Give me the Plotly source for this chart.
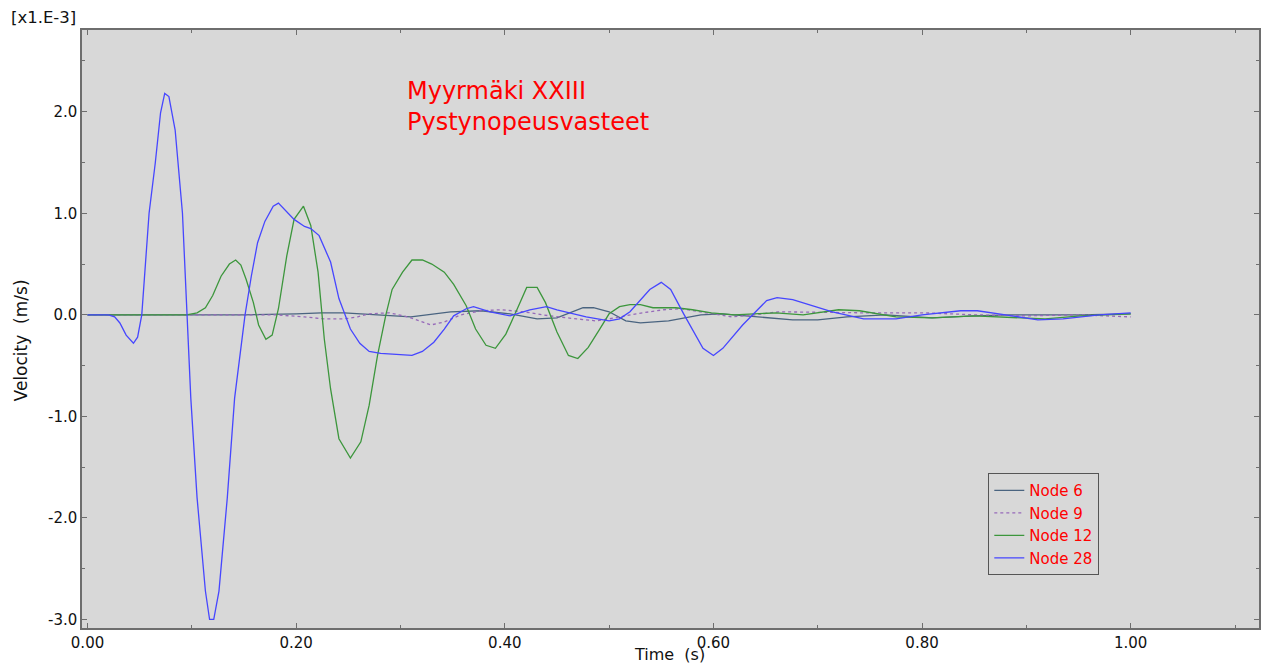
import plotly.graph_objects as go

# ---- data (time in s, velocity in 1e-3 m/s) ----
t_node6 = [0, 0.15, 0.2, 0.224, 0.246, 0.28, 0.31, 0.348, 0.377, 0.405, 0.431, 0.45, 0.475,
           0.485, 0.50, 0.516, 0.53, 0.557, 0.588, 0.608, 0.646, 0.676, 0.70, 0.728, 0.765,
           0.81, 0.85, 0.885, 0.95, 1.0]
v_node6 = [0, 0, 0.01, 0.02, 0.02, 0.0, -0.02, 0.03, 0.04, 0.01, -0.04, -0.03, 0.07,
           0.07, 0.03, -0.06, -0.08, -0.06, 0, 0.01, -0.02, -0.05, -0.05, -0.02, 0,
           -0.03, -0.01, 0, 0, 0.01]

t_node9 = [0, 0.18, 0.208, 0.227, 0.246, 0.259, 0.27, 0.289, 0.307, 0.323, 0.329, 0.342,
           0.358, 0.377, 0.396, 0.418, 0.443, 0.469, 0.488, 0.50, 0.526, 0.552, 0.57, 0.593,
           0.618, 0.64, 0.662, 0.741, 0.802, 0.85, 0.90, 0.95, 1.0]
v_node9 = [0, 0, -0.02, -0.04, -0.04, -0.02, 0.01, 0.02, -0.02, -0.08, -0.10, -0.07,
           0, 0.04, 0.05, 0.03, -0.01, -0.04, -0.06, -0.04, 0.01, 0.05, 0.06, 0.02,
           -0.02, 0, 0.03, 0.02, 0.02, 0, -0.01, 0, -0.02]

t_node12 = [0, 0.095, 0.105, 0.113, 0.120, 0.128, 0.136, 0.142, 0.147, 0.152, 0.159, 0.164,
            0.171, 0.177, 0.183, 0.191, 0.198, 0.207, 0.214, 0.221, 0.227, 0.233, 0.241,
            0.252, 0.262, 0.270, 0.278, 0.286, 0.292, 0.302, 0.311, 0.321, 0.330, 0.342,
            0.351, 0.363, 0.372, 0.382, 0.391, 0.401, 0.412, 0.421, 0.431, 0.439, 0.450,
            0.461, 0.470, 0.480, 0.491, 0.5, 0.51, 0.52, 0.53, 0.542, 0.564, 0.58, 0.598,
            0.62, 0.66, 0.686, 0.72, 0.74, 0.775, 0.809, 0.85, 0.918, 0.952, 1.0]
v_node12 = [0, 0, 0.02, 0.07, 0.19, 0.38, 0.50, 0.54, 0.49, 0.35, 0.12, -0.10,
            -0.24, -0.20, 0.06, 0.58, 0.94, 1.07, 0.88, 0.42, -0.24, -0.73, -1.22,
            -1.41, -1.25, -0.89, -0.40, 0, 0.25, 0.42, 0.54, 0.54, 0.50, 0.42,
            0.30, 0.09, -0.14, -0.30, -0.33, -0.19, 0.06, 0.27, 0.27, 0.12, -0.17,
            -0.40, -0.43, -0.32, -0.14, 0.01, 0.08, 0.10, 0.10, 0.07, 0.07, 0.05, 0.02,
            0, 0.02, 0, 0.05, 0.04, -0.02, -0.03, -0.01, -0.04, -0.01, 0.01]

t_node28 = [0, 0.02, 0.026, 0.031, 0.037, 0.044, 0.048, 0.052, 0.059, 0.065, 0.070, 0.074,
            0.078, 0.084, 0.091, 0.095, 0.099, 0.105, 0.113, 0.117, 0.121, 0.126, 0.134,
            0.141, 0.151, 0.157, 0.163, 0.170, 0.178, 0.183, 0.198, 0.208, 0.214, 0.222,
            0.233, 0.241, 0.252, 0.261, 0.270, 0.281, 0.303, 0.311, 0.321, 0.332, 0.342,
            0.351, 0.363, 0.370, 0.386, 0.405, 0.424, 0.44, 0.45, 0.478, 0.5, 0.51, 0.52,
            0.539, 0.55, 0.559, 0.572, 0.59, 0.6, 0.609, 0.628, 0.651, 0.661, 0.676, 0.714,
            0.744, 0.775, 0.80, 0.837, 0.853, 0.88, 0.911, 0.935, 0.97, 1.0]
v_node28 = [0, 0, -0.02, -0.08, -0.20, -0.28, -0.22, 0, 1.0, 1.5, 1.99, 2.18,
            2.15, 1.82, 1.0, 0, -0.82, -1.8, -2.72, -3.0, -3.0, -2.72, -1.8,
            -0.82, 0, 0.38, 0.71, 0.92, 1.07, 1.10, 0.94, 0.87, 0.85, 0.78,
            0.52, 0.16, -0.14, -0.28, -0.36, -0.38, -0.40, -0.40, -0.36, -0.27, -0.14,
            -0.01, 0.06, 0.08, 0.03, -0.01, 0.05, 0.08, 0.05, -0.02, -0.06, -0.04, 0.03,
            0.25, 0.32, 0.25, 0, -0.33, -0.40, -0.33, -0.10, 0.14, 0.17, 0.15, 0.03,
            -0.04, -0.04, 0, 0.04, 0.04, 0, -0.05, -0.04, 0, 0.02]

x_tickvals = [0.0, 0.2, 0.4, 0.6, 0.8, 1.0]
x_ticktext = ["0.00", "0.20", "0.40", "0.60", "0.80", "1.00"]
y_tickvals = [-3.0, -2.0, -1.0, 0.0, 1.0, 2.0]
y_ticktext = ["-3.0", "-2.0", "-1.0", "0.0", "1.0", "2.0"]

FONT = "DejaVu Sans"

fig = go.Figure()
fig.add_trace(go.Scatter(x=t_node6, y=v_node6, mode="lines", name="Node 6",
                         line=dict(color="rgb(74,100,128)", width=1.3)))
fig.add_trace(go.Scatter(x=t_node9, y=v_node9, mode="lines", name="Node 9",
                         line=dict(color="rgb(150,105,185)", width=1.3, dash="dot")))
fig.add_trace(go.Scatter(x=t_node12, y=v_node12, mode="lines", name="Node 12",
                         line=dict(color="rgb(60,150,60)", width=1.3)))
fig.add_trace(go.Scatter(x=t_node28, y=v_node28, mode="lines", name="Node 28",
                         line=dict(color="rgb(70,70,255)", width=1.3)))

axis_common = dict(showline=True, linecolor="#6e6e6e", linewidth=1.5, mirror="ticks",
                   ticks="inside", ticklen=5, tickcolor="#6e6e6e", showgrid=False,
                   zeroline=False, automargin=False,
                   tickfont=dict(family=FONT, size=15, color="#111"))

fig.update_xaxes(range=[-0.0053, 1.123], tickvals=x_tickvals, ticktext=x_ticktext,
                 minor=dict(dtick=0.1, tick0=0, ticks="inside", ticklen=3, tickcolor="#6e6e6e"),
                 **axis_common)
fig.update_yaxes(range=[-3.084, 2.805], tickvals=y_tickvals, ticktext=y_ticktext,
                 minor=dict(dtick=0.5, tick0=0, ticks="inside", ticklen=3, tickcolor="#6e6e6e"),
                 **axis_common)

fig.add_annotation(text="Velocity  (m/s)", xref="paper", yref="paper",
                   x=-0.0518, y=0.481, xanchor="center", yanchor="middle",
                   textangle=-90, showarrow=False,
                   font=dict(family=FONT, size=17, color="#111"))
fig.add_annotation(text="Time  (s)", xref="paper", yref="paper",
                   x=0.4995, y=-0.0451, xanchor="center", yanchor="middle",
                   showarrow=False, font=dict(family=FONT, size=16, color="#111"))
fig.add_annotation(text="Myyrmäki XXIII<br>Pystynopeusvasteet", xref="paper", yref="paper",
                   x=0.2744, y=0.925, xanchor="left", yanchor="top", showarrow=False,
                   align="left", font=dict(family=FONT, size=24, color="red"))
fig.add_annotation(text="[x1.E-3]", xref="paper", yref="paper", x=-0.062, y=1.0,
                   xanchor="left", yanchor="bottom", showarrow=False, yshift=1,
                   font=dict(family=FONT, size=16.5, color="#111"))

fig.update_layout(
    width=1267, height=666,
    margin=dict(l=82, r=8, t=30, b=38, autoexpand=False),
    paper_bgcolor="white", plot_bgcolor="#d8d8d8",
    showlegend=True,
    legend=dict(x=0.770, y=0.259, xanchor="left", yanchor="top",
                bgcolor="#d8d8d8", bordercolor="#555", borderwidth=1,
                font=dict(family=FONT, size=15, color="red"),
                itemwidth=30, tracegroupgap=0),
)

fig.write_html("out.html")
